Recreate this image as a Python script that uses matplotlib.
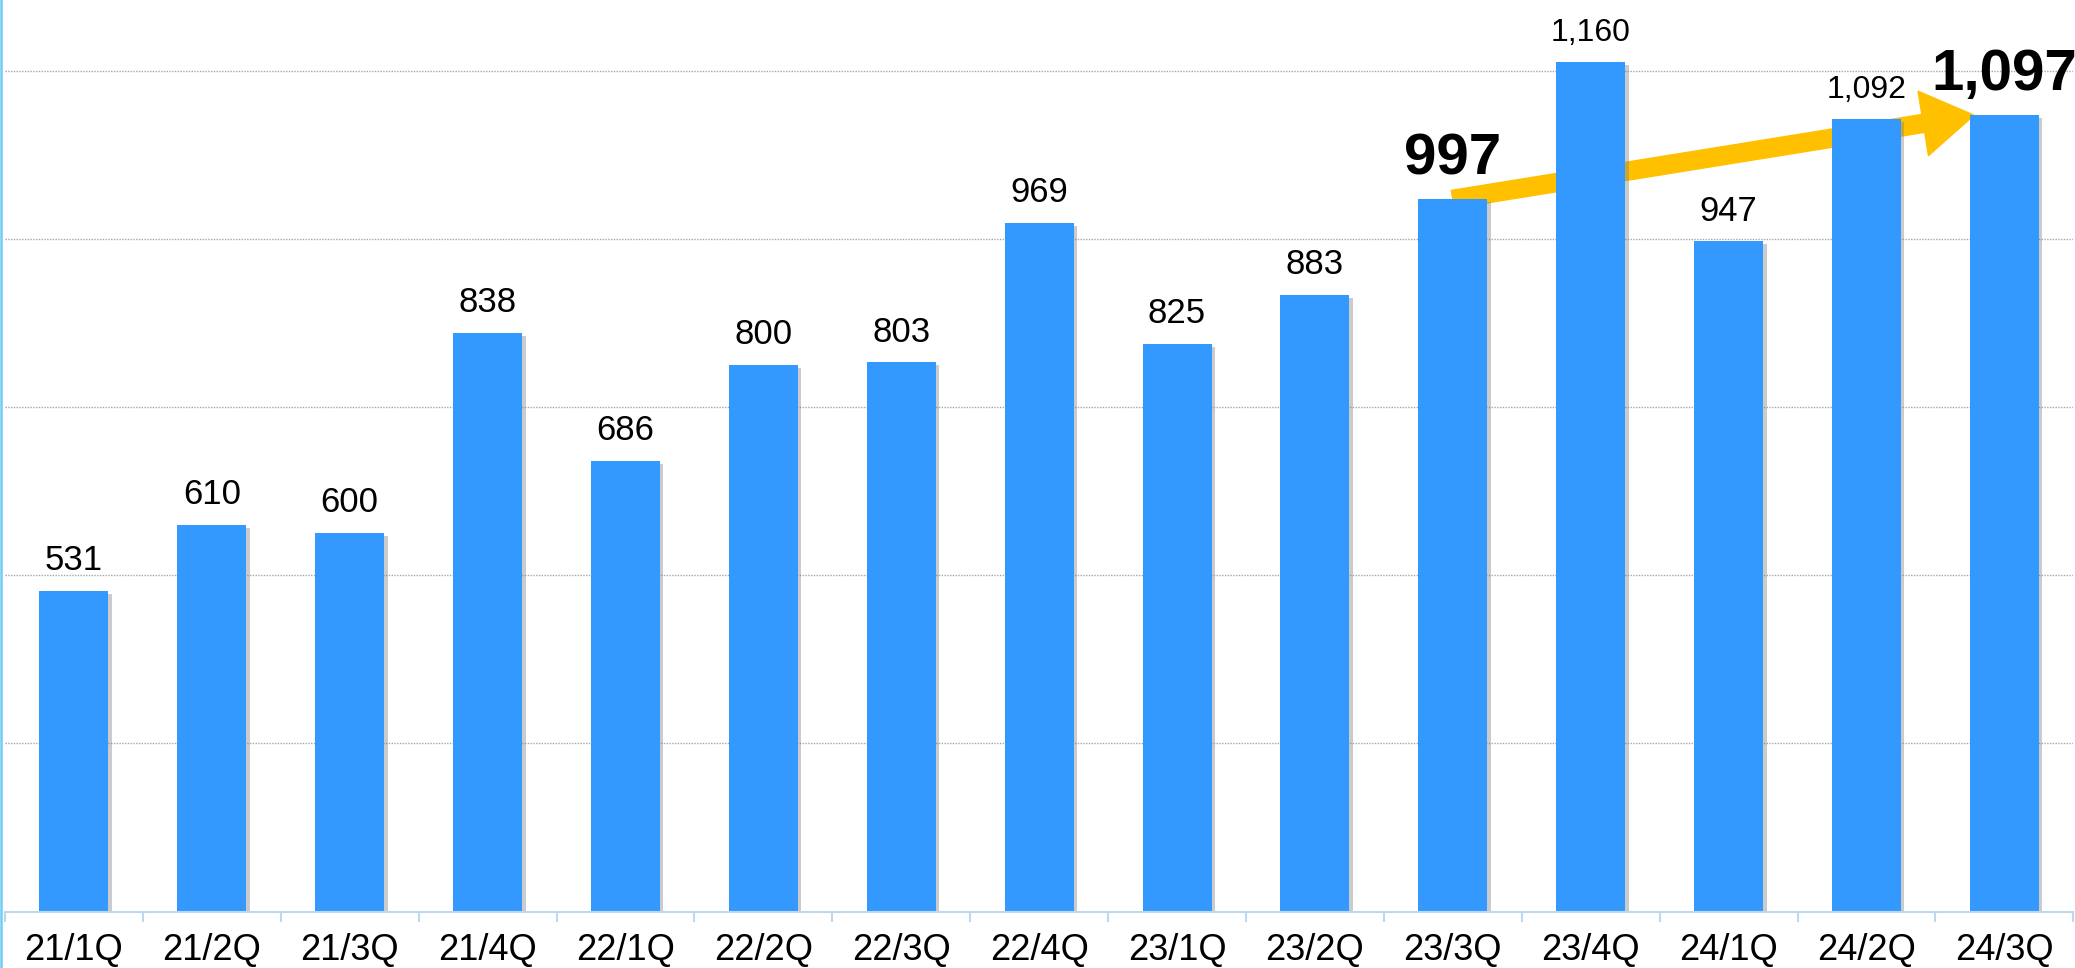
import matplotlib
matplotlib.use("Agg")
import matplotlib.pyplot as plt
import matplotlib.patheffects as pe
from matplotlib.lines import Line2D
from matplotlib.patches import FancyArrowPatch
import numpy as np

quarters = ["21/1Q", "21/2Q", "21/3Q", "21/4Q", "22/1Q", "22/2Q", "22/3Q", "22/4Q",
            "23/1Q", "23/2Q", "23/3Q", "23/4Q", "24/1Q", "24/2Q", "24/3Q"]
values = [531, 610, 600, 838, 686, 800, 803, 969, 825, 883, 997, 1160, 947, 1092, 1097]
highlight = ["23/3Q", "24/3Q"]

bar_color = "#3399FF"
arrow_color = "#FFC000"
axis_color = "#BDD7EE"

plt.rcParams["font.family"] = ["Liberation Sans", "DejaVu Sans"]

fig = plt.figure(figsize=(20.75, 9.68), dpi=100)
ax = fig.add_axes([5 / 2075, 56.3 / 968, 2068.3 / 2075, 911.7 / 968])

x = np.arange(len(quarters))
bars = ax.bar(x, values, width=0.5, bottom=0, color=bar_color, zorder=3)
for b in bars:
    b.set_path_effects([pe.SimplePatchShadow(offset=(2.5, -2), shadow_rgbFace="#7F7F7F", alpha=0.4),
                        pe.Normal()])

ax.set_xlim(-0.5, len(quarters) - 0.5)
ax.set_ylim(150, 1234)

# dotted horizontal grid
ax.set_yticks([350, 550, 750, 950, 1150])
ax.yaxis.grid(True, color="#A6A6A6", linestyle=(0, (1, 1)), linewidth=1.0, zorder=0)
ax.tick_params(axis="y", left=False, labelleft=False)

# category labels in the middle, tick marks on the boundaries
ax.set_xticks(x)
ax.set_xticklabels(quarters, fontsize=26)
ax.tick_params(axis="x", which="major", length=0, pad=15)
ax.set_xticks(np.arange(len(quarters) + 1) - 0.5, minor=True)
ax.tick_params(axis="x", which="minor", length=7.5, width=1.5, color=axis_color, direction="out")

for s in ["top", "right", "left"]:
    ax.spines[s].set_visible(False)
ax.spines["bottom"].set_color(axis_color)
ax.spines["bottom"].set_linewidth(1.5)
ax.spines["bottom"].set_zorder(4)

# value labels
for xi, q, v in zip(x, quarters, values):
    txt = f"{v:,}"
    if q in highlight:
        ax.annotate(txt, (xi, v), xytext=(0, 18), textcoords="offset points",
                    ha="center", va="baseline", fontsize=42, fontweight="bold",
                    annotation_clip=False, zorder=5)
    elif v >= 1000:
        ax.annotate(txt, (xi, v), xytext=(0, 15.5), textcoords="offset points",
                    ha="center", va="baseline", fontsize=23, zorder=5)
    else:
        ax.annotate(txt, (xi, v), xytext=(0, 15), textcoords="offset points",
                    ha="center", va="baseline", fontsize=25, zorder=5)

# growth arrow behind the bars
i0 = quarters.index(highlight[0])
i1 = quarters.index(highlight[1])
arrow = FancyArrowPatch((x[i0], values[i0]), (x[i1] - 0.22, values[i1]),
                        arrowstyle="simple,head_length=37,head_width=47,tail_width=13",
                        mutation_scale=1, shrinkA=0, shrinkB=0,
                        color=arrow_color, zorder=2)
ax.add_patch(arrow)

# thin vertical rule on the far left
fig.add_artist(Line2D([1 / 2075, 1 / 2075], [0, 1], color="#6FCDF5", linewidth=1.8))

fig.savefig("out.png", dpi=100)
